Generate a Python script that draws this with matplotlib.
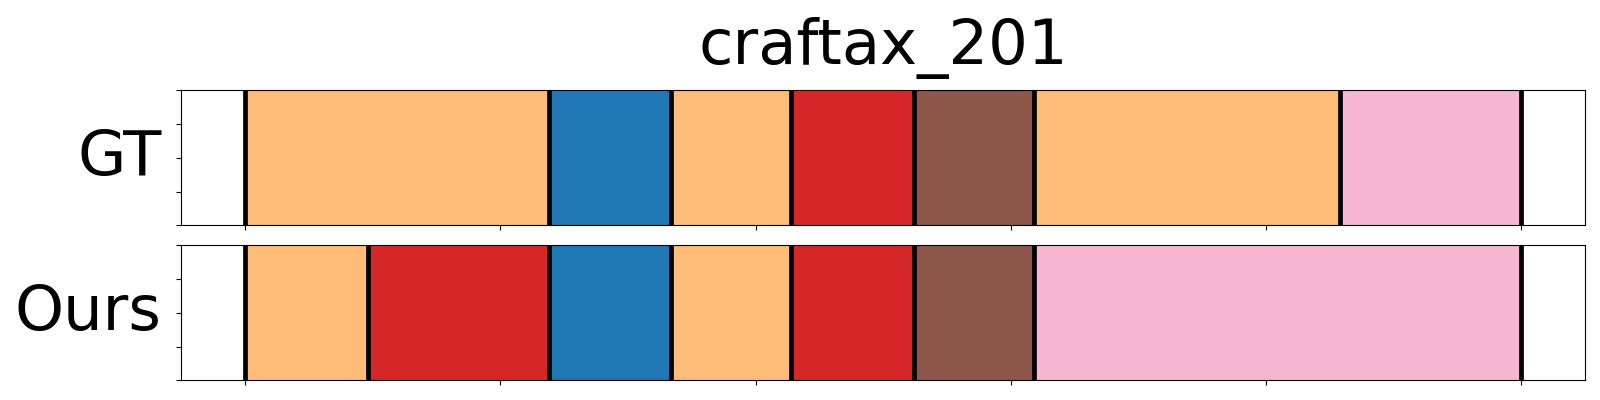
import matplotlib
matplotlib.use("Agg")
import matplotlib.pyplot as plt
import numpy as np

title = "craftax_201"
row_labels = ["GT", "Ours"]
total_len = 500

# segment boundaries (frames) and colours
gt_bounds = [0, 119, 167, 214, 262, 309, 429, 500]
gt_colors = ["#ffbb78", "#1f77b4", "#ffbb78", "#d62728", "#8c564b", "#ffbb78", "#f7b6d2"]
ours_bounds = [0, 48, 119, 167, 214, 262, 309, 500]
ours_colors = ["#ffbb78", "#d62728", "#1f77b4", "#ffbb78", "#d62728", "#8c564b", "#f7b6d2"]

fig = plt.figure(figsize=(16, 4), dpi=100)
ax_gt = fig.add_axes([0.1133, 0.4368, 0.8775, 0.3375])
ax_ours = fig.add_axes([0.1133, 0.0493, 0.8775, 0.3375])

for ax, bounds, colors, lab in [(ax_gt, gt_bounds, gt_colors, row_labels[0]),
                                 (ax_ours, ours_bounds, ours_colors, row_labels[1])]:
    for i, c in enumerate(colors):
        ax.axvspan(bounds[i], bounds[i + 1], ymin=0, ymax=1, color=c, lw=0)
    for b in bounds:
        ax.axvline(b, color="black", lw=3.4)
    ax.set_xlim(-0.05 * total_len, 1.05 * total_len)
    ax.set_ylim(0, 1)
    ax.set_xticks(np.arange(0, total_len + 1, 100))
    ax.set_yticks(np.linspace(0, 1, 5))
    ax.set_xticklabels([])
    ax.set_yticklabels([])
    ax.set_ylabel(lab, rotation=0, ha="right", va="center", fontsize=45, labelpad=7)

ax_gt.set_title(title, fontsize=45, pad=19)

fig.savefig("out.png", dpi=100)
